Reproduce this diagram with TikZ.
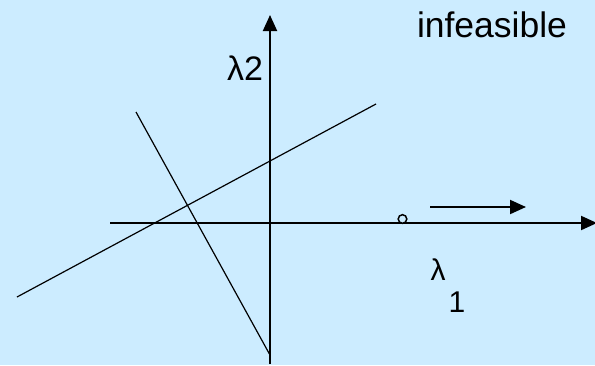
\documentclass[tikz,border=0pt]{standalone}
\usepackage{fontspec}
\setmainfont{Liberation Sans}
\usetikzlibrary{arrows.meta}
\definecolor{slidebg}{RGB}{204,236,255}
\tikzset{
  axisline/.style={line width=2pt, -{Triangle[length=16pt,width=14pt]}},
  thinline/.style={line width=1.2pt},
  lbl/.style={font=\fontsize{34}{38}\selectfont, inner sep=0pt}
}
\begin{document}
\begin{tikzpicture}[x=1pt,y=-1pt]

      % latar belakang
      \fill[slidebg] (0,0) rectangle (595,365);
      \useasboundingbox (0,0) rectangle (595,365);

      % jari-jari lingkaran kecil
      \def\r{4.3}

      % titik-titik sumbu
      \coordinate (xstart) at (110,223);
      \coordinate (xend) at (597,223);
      \coordinate (ystart) at (270,364);
      \coordinate (yend) at (270,15);

      % sumbu
      \draw[axisline] (xstart) -- (xend);
      \draw[axisline] (ystart) -- (yend);

      % dua garis kendala
      \coordinate (pa) at (17,297);
      \coordinate (pb) at (376,104);
      \coordinate (qa) at (136,112);
      \coordinate (qb) at (270,355);
      \draw[thinline] (pa) -- (pb);
      \draw[thinline] (qa) -- (qb);

      % titik lingkaran dan panah arah
      \draw[line width=1.5pt, fill=slidebg] (402.5,219) circle (\r);
      \coordinate (dstart) at (430,207);
      \coordinate (dend) at (526,207);
      \draw[axisline] (dstart) -- (dend);

      % label
      \node[lbl, font=\fontsize{35.5}{40}\selectfont] (infeas) at (492,25) {infeasible};
      \node[lbl] (lamtwo) at (245,68) {λ2};
      \node[lbl, font=\fontsize{30}{34}\selectfont] (lamone) at (438,270) {λ};
      \node[lbl, font=\fontsize{30}{34}\selectfont] (subone) at (457,302) {1};
    \end{tikzpicture}
\end{document}
